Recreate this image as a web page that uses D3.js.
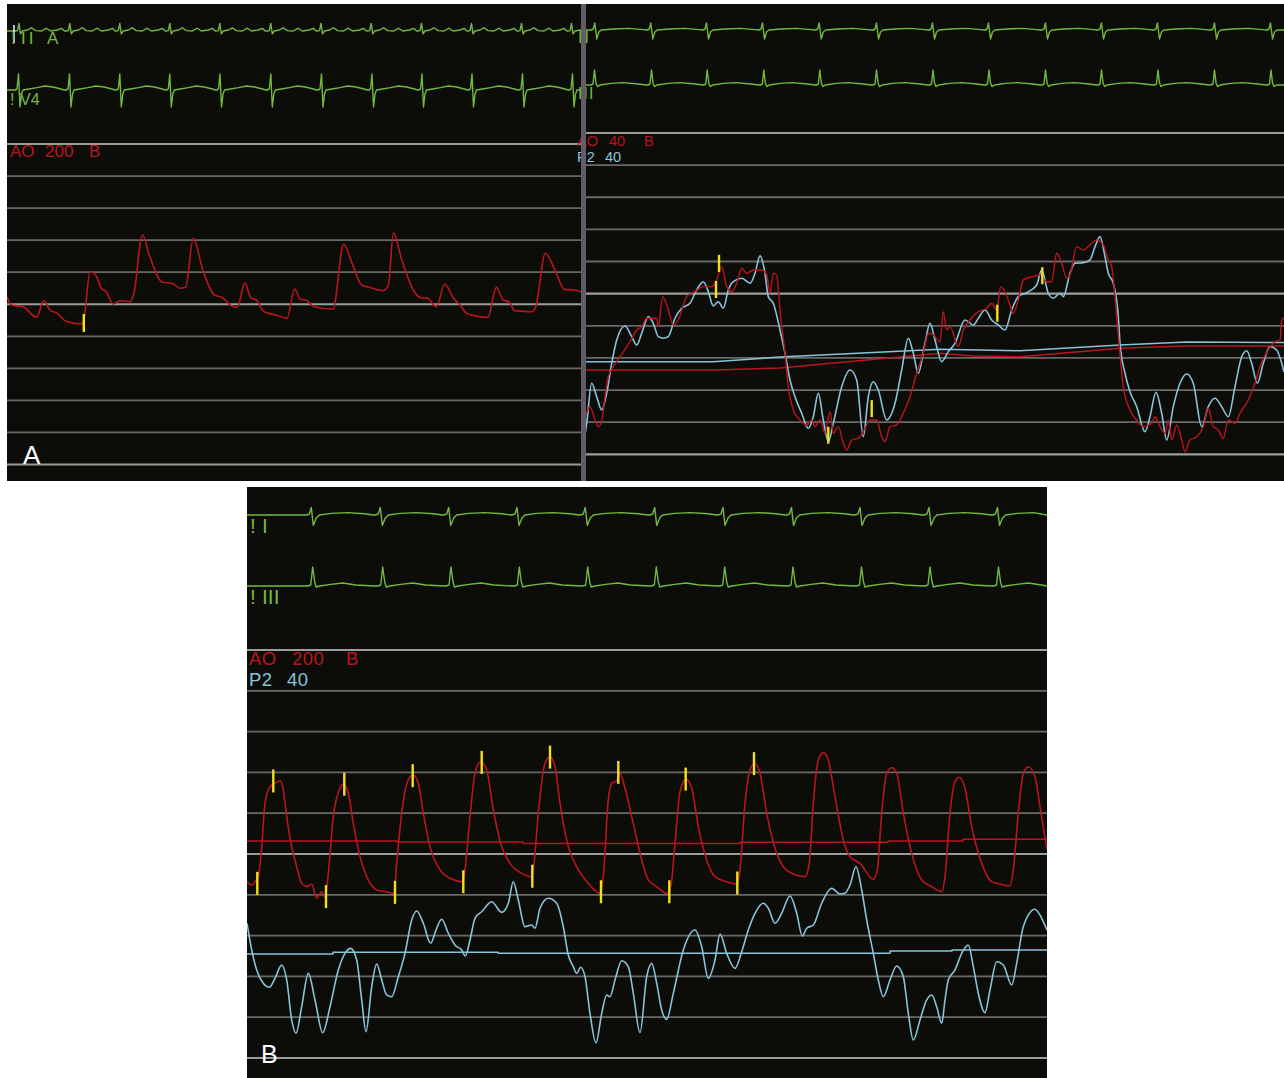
<!DOCTYPE html>
<html>
<head>
<meta charset="utf-8">
<script src="https://cdn.jsdelivr.net/npm/d3@7/dist/d3.min.js"></script>
<style>
  html, body { margin: 0; padding: 0; background: #ffffff; }
  svg { display: block; }
  text { font-family: "Liberation Sans", Arial, sans-serif; }
</style>
</head>
<body>
<script>
// ---------- Pressure scales (grid levels) ----------
const ticks200 = [0, 20, 40, 60, 80, 100, 120, 140, 160, 180, 200];
const ticks40 = [0, 4, 8, 12, 16, 20, 24, 28, 32, 36, 40];
const major200 = [0, 100, 200];
const major40 = [0, 20, 40];

// ---------- Panel A, left: aortic pressure (mmHg, scale 200), t in samples ----------
const aLeftAO = [
  [0,104.7],[4.5,99.5],[16,98.5],[29.4,91.9],[37,102.2],[42.8,96.4],[50.4,94.3],[58,89.7],
  [73.4,87.7],[76.4,89.1],[83,120.3],[88.7,118.2],[94.4,110],[99.4,107.8],[105.9,100.2],
  [113.6,102.2],[123.1,101.6],[127,107],[135.4,143.4],[142.3,130.7],[155.6,113.7],[165.2,113.1],
  [172.9,110],[178.6,110.6],[186.3,141.1],[195.8,121.4],[207.3,105.8],[215,104.3],[224.5,98.9],
  [230.3,98.1],[237.9,113.4],[243.7,104.1],[249.4,102.6],[257.1,95.3],[268.5,93.3],[280,91.2],
  [287.7,109.5],[293.4,103.1],[299.2,102.6],[306.8,98.5],[326,97],[336.7,137.6],[345.1,125.5],
  [354.7,112],[362.3,110.6],[375.7,108.5],[381.4,112],[386.4,144.6],[394.8,127.6],[406.3,108.9],
  [414,104.1],[419.7,104.1],[429.3,98.5],[437.7,112.6],[446.5,103.7],[452.2,100.2],[459.9,94.3],
  [480.9,91.9],[489.4,110.6],[496.3,102.6],[502,101.6],[507.7,96],[525,95.3],[528.8,98.5],
  [538.3,131.8],[547.9,121.4],[557.5,109.3],[567,108.9],[574,107.8]
];
const aLeftMarks = [[76.8, 88.3]];

// ---------- Panel A, right: AO and P2 (scale 40) ----------
const aRightAO = [
  [0,4.48],[5,5.93],[10,4.27],[13.3,3.44],[16.7,4.06],[20,7.17],[23.3,9.66],[28.3,10.91],[35,12.15],
  [45,14.02],[51.7,15.48],[56.7,15.89],[61.7,16.94],[71.7,16.94],[73.3,15.89],[77.7,19.63],[83.3,17.97],
  [88.3,16.1],[93.3,16.72],[101.7,19.63],[110,20.25],[118.3,20.87],[126.7,20.87],[131.7,21.71],
  [136.7,23.36],[141.7,20.87],[146.7,20.25],[151.7,21.3],[156.7,23.16],[161.7,22.54],[168.3,22.95],
  [176.7,22.95],[181.7,22.33],[185,20.05],[188.3,22.54],[191.7,22.33],[195,17.97],[200,12.58],
  [203.3,8.42],[208.3,5.52],[215,4.27],[221.7,3.65],[226.7,4.27],[230,3.44],[235,4.27],[240,2.62],
  [245,5.3],[248.3,2.62],[253.3,3.44],[258.3,1.37],[261.7,0.54],[266.7,1.78],[273.3,1.99],[280,3.24],
  [285,4.27],[291.7,4.27],[296.7,2.19],[300,1.57],[305,3.44],[311.7,3.65],[318.3,5.11],[325,7.17],
  [331.7,10.09],[338.3,12.58],[343.3,15.07],[348.3,14.86],[355,14.02],[358.3,17.76],[361.7,15.48],
  [365,15.89],[373.3,13.4],[378.3,15.48],[385,16.72],[393.3,17.76],[401.7,18.18],[406.7,18.8],
  [411.7,17.97],[415.7,20.87],[423.3,19.22],[428.3,17.56],[433.3,19.22],[438.3,21.71],[448.3,22.12],
  [455,22.33],[461.7,21.49],[466.7,21.49],[471.7,25.03],[476.7,23.79],[481.7,21.92],[485,22.33],
  [491.7,25.85],[498.3,25.44],[505,26.07],[511.7,26.69],[518.3,26.07],[523.3,24.2],[526.7,23.36],
  [530,19.63],[534.3,13.4],[538.3,8.42],[545,5.52],[551.7,4.27],[558.3,3.44],[566.7,3.86],[570,4.68],
  [575,3.44],[580,2.62],[583.3,4.27],[586.7,1.78],[591.7,3.65],[596.7,1.78],[600,0.32],[605,1.78],
  [611.7,2.19],[618.3,3.44],[623.3,5.73],[628.3,3.44],[633.3,3.03],[638.3,1.99],[643.3,4.27],[650,3.86],
  [655,5.11],[663.3,6.76],[670,8.84],[675,10.91],[683.3,12.99],[690,14.02],[695,14.23],[696.7,16.72],
  [699,16.97]
];
const aRightP2 = [
  [0,2.4],[1.7,3.86],[6.7,8.84],[11.7,7.17],[16.7,5.52],[21.7,7.6],[26.7,11.33],[31.7,14.23],[40,15.98],
  [46.7,14.65],[51.7,13.61],[56.7,15.07],[63.3,17.14],[68.3,16.31],[73.3,14.65],[78.3,14.45],[83.3,14.65],
  [90,16.94],[96.7,18.18],[105,18.8],[111.7,20.46],[118.3,21.49],[123.3,20.25],[128.3,18.47],[133.3,19],
  [138.3,18.18],[143.3,20.46],[148.3,21.49],[156.7,21.92],[165,21.3],[170,22.54],[175,24.7],[180,22.54],
  [183.3,19.63],[188.3,18.8],[195,15.48],[200,12.58],[205,9.25],[210,7.17],[216.7,5.11],[223.3,3.24],
  [228.3,4.68],[233.3,7.6],[238.3,4.27],[243.3,1.57],[248.3,3.86],[256.7,8.42],[265,10.5],[271.7,9.25],
  [278.3,2.19],[283.3,7.17],[288.3,9.04],[293.3,8.01],[301.7,4.27],[310,6.35],[316.7,10.5],[323.3,14.45],
  [328.3,12.58],[333.3,10.09],[340,13.86],[345,16.31],[350,14.23],[356.7,11.53],[363.3,12.78],[370,13.82],
  [380,16.72],[388.3,16.1],[393.3,16.94],[400,17.97],[406.7,16.72],[413.3,16.1],[420,15.48],[426.7,17.97],
  [433.3,19.63],[441.7,20.12],[451.7,21.08],[456.7,22.95],[463.3,20.05],[468.3,19.43],[475,20.05],
  [478.3,19.63],[485,22.54],[490,23.79],[498.3,23.86],[505,24.2],[510,25.85],[515,27.1],[520,24.61],
  [523.3,22.54],[528.3,21.3],[533.3,17.14],[535,13.82],[540,10.09],[545,7.8],[551.7,5.93],[560,2.81],
  [565,4.68],[571,7.72],[576.7,5.11],[581.7,1.78],[588.3,5.93],[595,8.84],[601.7,10],[608.3,8.84],
  [616.7,3.44],[623.3,5.93],[630,6.97],[636.7,5.93],[643.3,4.68],[650,8.42],[656.7,12.15],[661.7,12.9],
  [666.7,11.33],[672.3,8.84],[678.3,11.33],[685,13.4],[691.7,12.99],[696.7,11.33],[699,10.25]
];
const aRightAOMean = [[0,10.5],[128,10.5],[195,10.75],[355,12.58],[388,12.24],[435,12.15],[535,13.2],[601.7,13.49],[699,13.49]];
const aRightP2Mean = [[0,11.53],[128,11.53],[195,12.1],[355,13.08],[435,12.9],[535,13.61],[601.7,13.98],[699,13.92]];
const aRightMarks = [[131,20.52],[134,23.76],[243.3,2.37],[286.7,5.68],[412.3,17.56],[457.3,22.23]];

// ---------- Panel B: AO (scale 200) and P2 (scale 40) ----------
const bAO = [
  [0,86.4],[4.7,84.8],[8,86.4],[11.3,88.9],[14.7,103.6],[18,124.9],[23,133],[28,134.7],[33,135.9],
  [36.3,131.4],[39.7,118.3],[44.7,103.6],[49.7,93.8],[54.7,85.6],[59.7,84],[64.7,85.3],[69.7,78.3],
  [74.7,81.5],[78,79.1],[82.3,95.4],[86.3,118.3],[93,132.2],[96.3,134.3],[101.3,129.8],[106.3,115],
  [113,98.7],[119.7,88.9],[129.7,82.4],[139.7,81.5],[147,80.7],[149.7,95.4],[154.7,120],[161.3,136.3],
  [166.3,138.7],[171.3,134.7],[176.3,120],[183,103.6],[193,92.2],[203,88.1],[215.7,86.4],[218,92.2],
  [223,118.3],[228,139.6],[233.7,145.2],[239.7,141.2],[246.3,121.6],[254.7,103.6],[263,95.4],
  [274.7,90.5],[284.7,88.9],[287,95.4],[291.3,120],[298,144.5],[303,147.7],[308,142.8],[313,124.9],
  [321.3,103.6],[329.7,93.8],[341.3,85.6],[353,80.7],[356.3,88.9],[361.3,126.5],[364.7,134.7],
  [369.7,135.9],[373,139.6],[378,132.2],[386.3,115],[394.7,97.1],[401.3,87.3],[409.7,84],[419.7,80.7],
  [423.7,84],[428,105.2],[433,130.5],[439,136.6],[444.7,132.2],[451.3,113.4],[459.7,97.1],[468,88.9],
  [479.7,86.4],[489.7,85.3],[493,92.2],[498,124.9],[503,141.2],[508,144.5],[513,139.6],[519.7,120],
  [528,102.8],[536.3,93.8],[546.3,90.2],[558,88.9],[562.3,95.4],[566.3,124.9],[571.3,146.1],
  [576.3,149.7],[581.3,146.1],[588,128.1],[596.3,106.9],[603,98.7],[613,95.4],[626.3,87.6],
  [630.3,92.2],[634.7,120],[639.7,139.6],[644.7,142.3],[649.7,139.6],[656.3,120],[664.7,100.3],
  [674.7,87.3],[684.7,84],[694.7,81.5],[698,88.9],[703,120],[708,135.4],[712.3,137.6],[718,132.2],
  [724.7,113.4],[734.7,95.4],[744.7,86.4],[753,85.3],[763,84.3],[766.3,92.2],[771.3,120],[776.3,139.6],
  [781.3,142.8],[788,137.9],[793,123.2],[800,102]
];
const bP2 = [
  [0,13.2],[4.7,10.59],[9.7,8.63],[16.3,7.32],[22.3,6.93],[28,7.81],[34.7,9.12],[39.7,7.65],[44.7,3.73],
  [49,2.42],[54.7,5.03],[61.3,8.3],[68,5.69],[75.7,2.48],[83,5.03],[91.3,8.63],[98,10.26],[103.7,10.75],
  [109.7,9.61],[114.7,5.69],[119,2.58],[124.7,6.99],[129.7,9.22],[134.7,7.65],[139.7,6.18],[144.7,6.01],
  [151.3,7.97],[158,10.26],[164.7,13.53],[169.7,14.41],[176.3,13.21],[183.7,11.25],[189,12.55],
  [194.7,13.6],[201.3,12.23],[208,11.08],[214.7,10.59],[218.3,10],[223,11.57],[228,13.7],[234.7,14.34],
  [244.7,15.32],[254.7,14.28],[261.3,15.17],[266.3,17.28],[271.3,15.49],[278,12.87],[284.7,13.04],
  [288,12.72],[293,14.68],[301.3,15.66],[309.7,15.17],[316.3,12.87],[321.3,10.1],[326.3,8.95],
  [329.7,8.3],[333.7,8.89],[338,7.97],[343,4.38],[349,1.5],[354.7,4.38],[359.7,6.18],[363,6.01],
  [368,7.65],[374.7,9.54],[381.3,8.95],[386.3,6.34],[393,2.5],[399.7,7.97],[404.7,9.28],[409.7,7.32],
  [414.7,4.71],[419.7,3.79],[426.3,6.34],[436.3,10.59],[448,12.55],[454.7,10.91],[461.3,7.81],
  [468,9.61],[473,12.16],[479.7,10.26],[488,8.79],[494.7,10.42],[501.3,12.55],[508,14.19],[516.3,15.17],
  [521.3,14.68],[528,13.21],[534.7,14.19],[543,15.88],[549.7,14.19],[555.3,11.96],[559.7,12.72],
  [566.3,13.04],[574.7,15.17],[584.7,16.64],[593,16.08],[598,16.15],[603,16.96],[609,18.75],
  [614.7,16.47],[619.7,13.53],[626.3,10.26],[631.3,7.65],[636.3,6.01],[643,7.65],[649.7,9.02],
  [656.3,7.97],[661.3,4.38],[666.3,1.76],[673,3.73],[679.7,5.69],[684.7,6.18],[689.7,5.03],[694.7,3.4],
  [698,5.69],[701.3,7.65],[708,8.63],[714.7,10.26],[721.3,11.08],[726.3,8.95],[731.3,6.34],[738,4.44],
  [743,6.67],[749.7,9.44],[756.3,9.12],[764.7,7.16],[769.7,9.28],[776.3,12.87],[788,14.58],
  [794.7,13.7],[800,12.55]
];
const bAOMean = [[0,106.4],[150,105.9],[276,105.2],[493,105.7],[641,106.4],[716,107.2],[800,107.2]];
const bP2Mean = [[0,10.2],[86,10.36],[251,10.27],[643,10.49],[705,10.59],[800,10.59]];
const bMarks = [
  [10.3,85.6],[26.3,135.8],[79,79.1],[97.3,134.2],[148,81.2],[165.7,138.4],[216.3,86.4],[234.7,144.9],
  [285.3,89.1],[303,147.5],[354,81.5],[371.3,140],[422.3,81.5],[438.7,136.7],[490.3,85.8],[507,144.3]
];

// ---------- ECG: beat times (samples) and beat shapes (dt, mV) ----------
const aLeftIIBeats = [10.5, 61.3, 111.3, 161.3, 211.3, 262.3, 312.5, 362.7, 413, 463, 513, 563];
const aLeftV4Beats = [10, 61, 111.3, 161.3, 211.5, 262.3, 313, 363.5, 413.5, 463.5, 514, 564];
const aRightIIBeats = [8.3, 64.3, 120, 176, 232.7, 290, 346, 402, 459, 515, 571, 628, 684];
const aRightIIIBeats = [8, 65, 120.7, 177.3, 233.3, 290, 346.5, 402.5, 459, 515, 571.5, 628, 684.5];
const bIBeats = [62.3, 131.3, 199.7, 268, 336.3, 405.7, 474, 542.5, 611, 680, 748.5];
const bIIIBeats = [63.7, 133.7, 202, 270.3, 338.7, 407.3, 475.7, 544, 612.5, 681, 749.5];

const shapeIIa = [[-2,0],[0,0.02],[1.5,0.38],[3,-0.14],[5,0],[10,0.05],[14,0.16],[18,0.02],[24,0],[29,0.14],[33,0],[40,0.05],[44,0.13],[47,0]];
const shapeV4 = [[-2,0],[0,0.05],[1.5,0.8],[3,-0.85],[4.5,-0.2],[6,0],[12,0.05],[20,0.12],[28,0.2],[36,0.15],[44,0.05],[47,0]];
const shapeIIb = [[-2,0],[0,0.05],[1.5,0.35],[3.5,-0.45],[5.5,-0.1],[8,0],[20,0.05],[35,0.08],[50,0.02],[53,0]];
const shapeIIIb = [[-2,0],[0,0.05],[1.5,0.75],[3,0.1],[4.5,-0.08],[7,0],[18,0.08],[30,0.12],[45,0.05],[53,0]];
const shapeI = [[-3,0],[0,0.05],[2,0.38],[4,-0.52],[7,-0.15],[10,0],[22,0.08],[38,0.12],[55,0.06],[64,0]];
const shapeIIIc = [[-3,0],[0,0.05],[2,0.95],[4,0.2],[5.5,-0.05],[9,0],[20,0.08],[32,0.15],[45,0.05],[64,0]];

// ---------- Drawing ----------
const W = 1284, H = 1078;
const COL = {
  bg: "#0c0c09", grid: "#686868", gridMajor: "#9c9c9c",
  red: "#bb151e", blue: "#88c4da", green: "#74b93f", yellow: "#f3e01c", white: "#ffffff"
};

const svg = d3.select("body").append("svg")
  .attr("width", W).attr("height", H).attr("viewBox", `0 0 ${W} ${H}`);

const defs = svg.append("defs");

function makePanel(id, x0, y0, x1, y1) {
  defs.append("clipPath").attr("id", id)
    .append("rect").attr("x", x0).attr("y", y0).attr("width", x1 - x0).attr("height", y1 - y0);
  svg.append("rect").attr("x", x0).attr("y", y0).attr("width", x1 - x0).attr("height", y1 - y0)
    .attr("fill", COL.bg);
  return svg.append("g").attr("clip-path", `url(#${id})`);
}

function grid(g, xs, ys, ticks, majors) {
  g.append("g").selectAll("line").data(ticks).join("line")
    .attr("x1", xs.range()[0]).attr("x2", xs.range()[1])
    .attr("y1", d => ys(d)).attr("y2", d => ys(d))
    .attr("stroke", d => majors.includes(d) ? COL.gridMajor : COL.grid)
    .attr("stroke-width", d => majors.includes(d) ? 2.2 : 1.8);
}

function trace(g, data, xs, ys, color, width, curve) {
  g.append("path").datum(data)
    .attr("fill", "none").attr("stroke", color).attr("stroke-width", width)
    .attr("stroke-linejoin", "round")
    .attr("d", d3.line().x(d => xs(d[0])).y(d => ys(d[1])).curve(curve || d3.curveMonotoneX));
}

function marks(g, data, xs, ys, len) {
  g.append("g").selectAll("line").data(data).join("line")
    .attr("x1", d => xs(d[0])).attr("x2", d => xs(d[0]))
    .attr("y1", d => ys(d[1]) - len / 2).attr("y2", d => ys(d[1]) + len / 2)
    .attr("stroke", COL.yellow).attr("stroke-width", 2.4);
}

// ECG strip: beat shapes placed at the listed beat times on a flat baseline
function ecgPoints(beats, shape, span) {
  const pts = [[0, 0]];
  beats.forEach(b => shape.forEach(([dt, v]) => pts.push([b + dt, v])));
  pts.push([span, 0]);
  return pts.filter(p => p[0] >= 0 && p[0] <= span).sort((a, b) => a[0] - b[0]);
}
function ecg(g, beats, shape, xs, base) {
  const span = xs.domain()[1];
  const ys = d3.scaleLinear().domain([-1, 1]).range([base + 20, base - 20]);
  trace(g, ecgPoints(beats, shape, span), xs, ys, COL.green, 1.4, d3.curveLinear);
}

function label(x, y, str, color, size, spacing) {
  const t = svg.append("text").attr("x", x).attr("y", y).attr("fill", color)
    .attr("font-size", size).text(str);
  if (spacing) t.attr("letter-spacing", spacing);
  return t;
}

// ===== Panel A, left =====
{
  const xs = d3.scaleLinear().domain([0, 574]).range([7, 581]);
  const ys = d3.scaleLinear().domain([0, 200]).range([464.5, 144]);
  const g = makePanel("clipAL", 7, 4, 581, 481);
  grid(g, xs, ys, ticks200, major200);
  ecg(g, aLeftIIBeats, shapeIIa, xs, 31);
  ecg(g, aLeftV4Beats, shapeV4, xs, 90);
  trace(g, aLeftAO, xs, ys, COL.red, 1.6);
  marks(g, aLeftMarks, xs, ys, 18);
  // calibration tick
  g.append("line").attr("x1", 14).attr("x2", 14).attr("y1", 25).attr("y2", 43)
    .attr("stroke", "#e8e8e8").attr("stroke-width", 1.6);
}
label(11, 44, "!", COL.green, 17);
label(21, 44, "II", COL.green, 17, 3);
label(47, 44, "A", COL.green, 17);
label(10, 105, "!", COL.green, 16);
label(20, 105, "V4", COL.green, 16);
label(10, 157, "AO", COL.red, 17);
label(45, 157, "200", COL.red, 17);
label(89, 157, "B", COL.red, 17);
label(23, 464, "A", COL.white, 26);

// ===== Panel A, right =====
{
  const xs = d3.scaleLinear().domain([0, 699]).range([585, 1284]);
  const ys = d3.scaleLinear().domain([0, 40]).range([454.3, 133]);
  const g = makePanel("clipAR", 585, 4, 1284, 481);
  grid(g, xs, ys, ticks40, major40);
  ecg(g, aRightIIBeats, shapeIIb, xs, 30);
  ecg(g, aRightIIIBeats, shapeIIIb, xs, 85);
  trace(g, aRightP2Mean, xs, ys, COL.blue, 1.5, d3.curveLinear);
  trace(g, aRightAOMean, xs, ys, COL.red, 1.5, d3.curveLinear);
  trace(g, aRightP2, xs, ys, COL.blue, 1.6);
  trace(g, aRightAO, xs, ys, COL.red, 1.4);
  marks(g, aRightMarks, xs, ys, 17);
}
label(577, 145.5, "AO", COL.red, 14.5);
label(609, 145.5, "40", COL.red, 14.5);
label(644, 145.5, "B", COL.red, 14.5);
label(577, 162, "P2", COL.blue, 14.5);
label(605, 162, "40", COL.blue, 14.5);
label(578, 43, "II", COL.green, 16, 2);
label(578, 99, "III", COL.green, 16, 1);
// divider between the two recordings
svg.append("rect").attr("x", 581).attr("y", 4).attr("width", 5).attr("height", 477).attr("fill", "#625c68");

// ===== Panel B =====
{
  const xs = d3.scaleLinear().domain([0, 800]).range([247, 1047]);
  const ysAO = d3.scaleLinear().domain([0, 200]).range([1058, 650]);
  const ysP2 = d3.scaleLinear().domain([0, 40]).range([1058, 650]);
  const g = makePanel("clipB", 247, 487, 1047, 1078);
  grid(g, xs, ysAO, ticks200, major200);
  ecg(g, bIBeats, shapeI, xs, 515);
  ecg(g, bIIIBeats, shapeIIIc, xs, 586);
  trace(g, bAOMean, xs, ysAO, COL.red, 1.5, d3.curveStepAfter);
  trace(g, bP2Mean, xs, ysP2, COL.blue, 1.5, d3.curveStepAfter);
  trace(g, bP2, xs, ysP2, COL.blue, 1.6);
  trace(g, bAO, xs, ysAO, COL.red, 1.6);
  marks(g, bMarks, xs, ysAO, 23);
}
label(250, 533, "!", COL.green, 21);
label(262, 533, "I", COL.green, 21);
label(250, 604, "!", COL.green, 21);
label(262, 604, "III", COL.green, 21);
label(249, 665, "AO", COL.red, 18.5, 0.5);
label(292, 665, "200", COL.red, 18.5, 0.5);
label(346, 665, "B", COL.red, 18.5);
label(249, 686, "P2", COL.blue, 18.5, 0.5);
label(287, 686, "40", COL.blue, 18.5, 0.5);
label(261, 1063, "B", COL.white, 25);
</script>
</body>
</html>
